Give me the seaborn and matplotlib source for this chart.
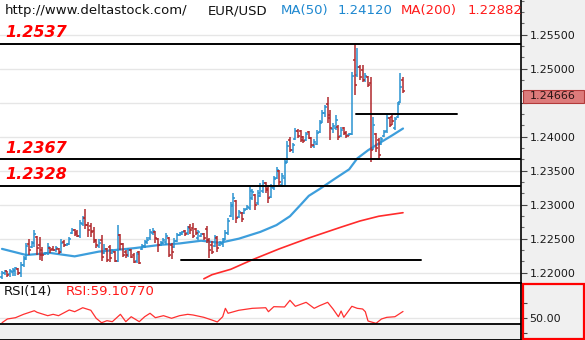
import numpy as np
import pandas as pd
import matplotlib
matplotlib.use("Agg")
import matplotlib.pyplot as plt
import matplotlib.transforms as mtransforms
from matplotlib.patches import Rectangle
from matplotlib.ticker import MultipleLocator, FixedLocator, FuncFormatter, NullFormatter
import seaborn as sns

sns.set_theme(style="white")
plt.rcParams["font.family"] = ["DejaVu Sans"]

# ---------------- EUR/USD OHLC bars ----------------
open_ = [1.2194, 1.2199, 1.2202, 1.2198, 1.2201, 1.2202, 1.2205, 1.2200, 1.2211, 1.2222,
         1.2242, 1.2238, 1.2244, 1.2252, 1.2241, 1.2233, 1.2227, 1.2229, 1.2236, 1.2235,
         1.2233, 1.2235, 1.2230, 1.2245, 1.2241, 1.2242, 1.2258, 1.2263, 1.2260, 1.2254,
         1.2272, 1.2280, 1.2270, 1.2269, 1.2261, 1.2247, 1.2239, 1.2248, 1.2229, 1.2235,
         1.2238, 1.2229, 1.2230, 1.2217, 1.2255, 1.2242, 1.2230, 1.2226, 1.2233, 1.2226,
         1.2217, 1.2230, 1.2235, 1.2239, 1.2245, 1.2251, 1.2259, 1.2260, 1.2250, 1.2241,
         1.2244, 1.2245, 1.2251, 1.2241, 1.2238, 1.2247, 1.2255, 1.2257, 1.2261, 1.2258,
         1.2267, 1.2266, 1.2264, 1.2251, 1.2254, 1.2257, 1.2264, 1.2248, 1.2241, 1.2239,
         1.2251, 1.2241, 1.2242, 1.2250, 1.2258, 1.2283, 1.2298, 1.2305, 1.2282, 1.2288,
         1.2288, 1.2294, 1.2295, 1.2310, 1.2314, 1.2302, 1.2313, 1.2320, 1.2332, 1.2323,
         1.2311, 1.2325, 1.2339, 1.2350, 1.2329, 1.2339, 1.2363, 1.2395, 1.2380, 1.2397,
         1.2409, 1.2408, 1.2400, 1.2395, 1.2407, 1.2398, 1.2387, 1.2389, 1.2407, 1.2422,
         1.2435, 1.2448, 1.2432, 1.2412, 1.2413, 1.2414, 1.2401, 1.2413, 1.2406, 1.2402,
         1.2404, 1.2513, 1.2491, 1.2502, 1.2498, 1.2483, 1.2488, 1.2479, 1.2383, 1.2404,
         1.2395, 1.2389, 1.2401, 1.2408, 1.2427, 1.2429, 1.2413, 1.2429, 1.2451, 1.2483]
high = [1.2202, 1.2204, 1.2203, 1.2205, 1.2207, 1.2208, 1.2207, 1.2216, 1.2224, 1.2244,
        1.2250, 1.2247, 1.2263, 1.2254, 1.2252, 1.2238, 1.2230, 1.2244, 1.2238, 1.2239,
        1.2239, 1.2236, 1.2250, 1.2248, 1.2244, 1.2252, 1.2266, 1.2264, 1.2263, 1.2278,
        1.2283, 1.2294, 1.2274, 1.2273, 1.2267, 1.2249, 1.2250, 1.2255, 1.2242, 1.2236,
        1.2241, 1.2235, 1.2232, 1.2270, 1.2257, 1.2244, 1.2233, 1.2236, 1.2235, 1.2229,
        1.2230, 1.2232, 1.2242, 1.2248, 1.2252, 1.2264, 1.2266, 1.2261, 1.2251, 1.2247,
        1.2251, 1.2258, 1.2252, 1.2244, 1.2251, 1.2258, 1.2260, 1.2261, 1.2263, 1.2268,
        1.2272, 1.2273, 1.2266, 1.2263, 1.2258, 1.2258, 1.2269, 1.2251, 1.2247, 1.2255,
        1.2254, 1.2247, 1.2251, 1.2263, 1.2280, 1.2304, 1.2317, 1.2307, 1.2292, 1.2289,
        1.2295, 1.2300, 1.2326, 1.2323, 1.2316, 1.2322, 1.2332, 1.2336, 1.2333, 1.2328,
        1.2330, 1.2342, 1.2355, 1.2351, 1.2347, 1.2366, 1.2394, 1.2400, 1.2391, 1.2413,
        1.2412, 1.2410, 1.2401, 1.2407, 1.2408, 1.2400, 1.2396, 1.2410, 1.2425, 1.2439,
        1.2447, 1.2458, 1.2439, 1.2420, 1.2432, 1.2417, 1.2414, 1.2414, 1.2408, 1.2405,
        1.2495, 1.2537, 1.2530, 1.2505, 1.2505, 1.2494, 1.2489, 1.2488, 1.2429, 1.2405,
        1.2398, 1.2400, 1.2410, 1.2432, 1.2429, 1.2432, 1.2429, 1.2451, 1.2494, 1.2488]
low = [1.2191, 1.2196, 1.2193, 1.2194, 1.2195, 1.2195, 1.2197, 1.2194, 1.2208, 1.2219,
       1.2226, 1.2236, 1.2238, 1.2226, 1.2219, 1.2217, 1.2226, 1.2226, 1.2229, 1.2232,
       1.2230, 1.2227, 1.2229, 1.2238, 1.2239, 1.2241, 1.2257, 1.2254, 1.2252, 1.2251,
       1.2269, 1.2264, 1.2252, 1.2252, 1.2244, 1.2236, 1.2236, 1.2217, 1.2227, 1.2216,
       1.2216, 1.2227, 1.2216, 1.2216, 1.2233, 1.2223, 1.2222, 1.2223, 1.2222, 1.2214,
       1.2214, 1.2213, 1.2233, 1.2236, 1.2242, 1.2248, 1.2256, 1.2244, 1.2230, 1.2239,
       1.2242, 1.2241, 1.2223, 1.2220, 1.2236, 1.2245, 1.2254, 1.2255, 1.2254, 1.2256,
       1.2257, 1.2251, 1.2255, 1.2248, 1.2252, 1.2248, 1.2244, 1.2222, 1.2227, 1.2238,
       1.2230, 1.2239, 1.2238, 1.2248, 1.2255, 1.2282, 1.2278, 1.2273, 1.2280, 1.2274,
       1.2286, 1.2292, 1.2292, 1.2307, 1.2292, 1.2300, 1.2311, 1.2317, 1.2317, 1.2302,
       1.2310, 1.2322, 1.2338, 1.2329, 1.2326, 1.2328, 1.2361, 1.2378, 1.2376, 1.2395,
       1.2398, 1.2392, 1.2391, 1.2394, 1.2397, 1.2383, 1.2384, 1.2388, 1.2405, 1.2420,
       1.2429, 1.2420, 1.2395, 1.2405, 1.2410, 1.2395, 1.2400, 1.2402, 1.2398, 1.2401,
       1.2402, 1.2461, 1.2488, 1.2483, 1.2480, 1.2480, 1.2473, 1.2363, 1.2380, 1.2378,
       1.2369, 1.2388, 1.2400, 1.2405, 1.2414, 1.2417, 1.2410, 1.2427, 1.2450, 1.2464]
close = [1.2200, 1.2202, 1.2196, 1.2202, 1.2204, 1.2207, 1.2200, 1.2211, 1.2220, 1.2239,
         1.2233, 1.2244, 1.2257, 1.2236, 1.2226, 1.2226, 1.2229, 1.2238, 1.2233, 1.2233,
         1.2236, 1.2230, 1.2244, 1.2240, 1.2242, 1.2250, 1.2263, 1.2257, 1.2254, 1.2273,
         1.2280, 1.2270, 1.2263, 1.2260, 1.2248, 1.2240, 1.2244, 1.2223, 1.2235, 1.2219,
         1.2222, 1.2232, 1.2217, 1.2255, 1.2242, 1.2226, 1.2226, 1.2233, 1.2223, 1.2216,
         1.2227, 1.2214, 1.2239, 1.2245, 1.2248, 1.2260, 1.2262, 1.2251, 1.2241, 1.2244,
         1.2248, 1.2254, 1.2226, 1.2230, 1.2247, 1.2255, 1.2258, 1.2260, 1.2257, 1.2266,
         1.2263, 1.2254, 1.2258, 1.2260, 1.2257, 1.2251, 1.2248, 1.2233, 1.2230, 1.2252,
         1.2236, 1.2244, 1.2248, 1.2258, 1.2276, 1.2300, 1.2310, 1.2280, 1.2289, 1.2279,
         1.2292, 1.2297, 1.2320, 1.2319, 1.2300, 1.2317, 1.2328, 1.2332, 1.2322, 1.2310,
         1.2326, 1.2338, 1.2351, 1.2333, 1.2342, 1.2361, 1.2386, 1.2380, 1.2388, 1.2408,
         1.2401, 1.2395, 1.2394, 1.2404, 1.2398, 1.2388, 1.2392, 1.2405, 1.2420, 1.2435,
         1.2444, 1.2427, 1.2413, 1.2416, 1.2425, 1.2400, 1.2410, 1.2405, 1.2401, 1.2404,
         1.2489, 1.2476, 1.2502, 1.2488, 1.2483, 1.2489, 1.2476, 1.2380, 1.2417, 1.2383,
         1.2373, 1.2397, 1.2407, 1.2427, 1.2417, 1.2423, 1.2426, 1.2448, 1.2473, 1.24666]

# ---------------- moving averages (bar number, value) ----------------
ma50_bar = [0, 9, 18, 27, 36, 49, 59, 66, 74, 81, 88, 96, 102, 107, 111, 114, 118, 124,
            129, 132, 136, 140, 145, 149]
ma50_val = [1.2235, 1.2226, 1.2229, 1.2224, 1.2231, 1.2236, 1.2241, 1.2243, 1.2247,
            1.2244, 1.2250, 1.2260, 1.2270, 1.2283, 1.2300, 1.2313, 1.2323, 1.2339,
            1.2352, 1.2368, 1.2380, 1.2390, 1.2402, 1.2412]
ma200_bar = [75, 78, 85, 93, 103, 114, 126, 133, 140, 149]
ma200_val = [1.2191, 1.2197, 1.2205, 1.2219, 1.2235, 1.2251, 1.2267, 1.2276, 1.2283, 1.22882]

# ---------------- RSI(14) ----------------
rsi_bar = [0, 2, 5, 8, 12, 13, 17, 19, 21, 25, 27, 30, 33, 35, 37, 39, 41, 44, 46, 48,
           51, 53, 55, 57, 60, 63, 66, 69, 71, 75, 78, 80, 82, 83, 84, 88, 93, 98, 99, 101,
           105, 107, 109, 113, 116, 118, 121, 123, 125, 126, 127, 130, 132, 134, 135, 136,
           139, 141, 143, 146, 147, 149]
rsi_val = [44.1, 49.1, 50.8, 55.3, 60.1, 58.0, 53.5, 55.3, 53.5, 61.1, 58.8, 64.1, 60.7,
           50.0, 44.1, 46.8, 45.5, 55.3, 45.5, 52.1, 45.5, 52.1, 56.7, 50.8, 53.5, 50.0,
           53.5, 55.3, 54.4, 51.3, 47.7, 45.1, 52.1, 63.3, 56.7, 60.7, 63.3, 64.1, 58.8,
           65.5, 65.1, 74.0, 66.0, 71.3, 63.3, 66.8, 71.3, 62.4, 52.1, 59.7, 51.3, 66.0,
           63.3, 62.4, 58.8, 46.4, 43.3, 49.1, 51.3, 52.1, 54.4, 59.1077]

# ---------------- drawn levels ----------------
level_values = [1.2537, 1.2367, 1.2328]
level_labels = ["1.2537", "1.2367", "1.2328"]
segment_values = [1.2433, 1.2219]
segment_start = [131.5, 66.5]
segment_end = [169.1, 155.7]

price_ticks = [1.220, 1.225, 1.230, 1.235, 1.240, 1.245, 1.250, 1.255]
rsi_ticks = [30, 50, 70]
last_price = 1.24666
ma50_last, ma200_last = "1.24120", "1.22882"
rsi_last = "59.10770"

BAR_UP = "#2b93d1"
BAR_DN = "#b0282c"
MA50_C = "#3d9edc"
MA200_C = "#ff2b2b"
PANEL = "#f0f0f0"
GRID = "#e6e6e6"

# ---------------- layout in pixels ----------------
W, H = 585, 340
PLOT_R = 521          # right edge of chart area
MAIN_B = 283          # bottom of price panel
FIRST_X, LAST_X = 2, 403
PX_PER_UNIT = 6800.0  # vertical price scale
PRICE_TOP = 1.2601

fig = plt.figure(figsize=(W / 100, H / 100), dpi=100, facecolor=PANEL)
ax = fig.add_axes([0, 1 - MAIN_B / H, PLOT_R / W, MAIN_B / H])
rx = fig.add_axes([0, 0, PLOT_R / W, (H - MAIN_B) / H])

n = len(close)
step = (LAST_X - FIRST_X) / (n - 1)
xl = (-FIRST_X / step, (PLOT_R - FIRST_X) / step)

df = pd.DataFrame({"bar": np.arange(n), "open": open_, "high": high,
                   "low": low, "close": close})
df["up"] = df["close"] >= df["open"]

ax.set_facecolor("white")
ax.set_xlim(*xl)
ax.set_ylim(PRICE_TOP - MAIN_B / PX_PER_UNIT, PRICE_TOP)

# horizontal grid
ax.yaxis.set_major_locator(FixedLocator(price_ticks))
ax.yaxis.set_minor_locator(MultipleLocator(0.005 / 3))
ax.grid(True, axis="y", which="major", color=GRID, lw=1.0)
ax.set_axisbelow(True)

# OHLC bars
tick = 0.75
for is_up, col in [(True, BAR_UP), (False, BAR_DN)]:
    d = df[df["up"] == is_up]
    ax.vlines(d["bar"], d["low"], d["high"], color=col, lw=1.1, zorder=3)
    ax.hlines(d["open"], d["bar"] - tick, d["bar"], color=col, lw=1.1, zorder=3)
    ax.hlines(d["close"], d["bar"], d["bar"] + tick, color=col, lw=1.1, zorder=3)

# moving averages
sns.lineplot(x=ma50_bar, y=ma50_val, ax=ax, color=MA50_C, lw=1.6, zorder=2)
sns.lineplot(x=ma200_bar, y=ma200_val, ax=ax, color=MA200_C, lw=1.2, zorder=2)

# support / resistance levels
for v in level_values:
    ax.axhline(v, color="black", lw=1.4, zorder=4)
for v, a, b in zip(segment_values, segment_start, segment_end):
    ax.plot([a, b], [v, v], color="black", lw=1.4, zorder=4)

blend = mtransforms.blended_transform_factory(ax.transAxes, ax.transData)
for v, t in zip(level_values, level_labels):
    ax.annotate(t, xy=(5 / PLOT_R, v), xycoords=blend, xytext=(0, 2.5),
                textcoords="offset points", ha="left", va="bottom",
                color="#ff0000", fontsize=11.5, fontweight="bold",
                fontstyle="italic", zorder=5)

# header
hy = 1 - 10.5 / MAIN_B
hdr = [("http://www.deltastock.com/", 5, "#111111"), ("EUR/USD", 208, "#111111"),
       ("MA(50)", 281, "#1e88d0"), (ma50_last, 338, "#1e88d0"),
       ("MA(200)", 401, "#ff1a1a"), (ma200_last, 468, "#ff1a1a")]
for t, px, c in hdr:
    ax.text(px / PLOT_R, hy, t, transform=ax.transAxes, ha="left", va="center",
            fontsize=9.5, color=c, zorder=5)

# right price scale (the level hidden under the price tag stays unlabelled)
def price_fmt(v, p):
    return "" if abs(v - 1.245) < 1e-9 else f"{v:.5f}"

ax.yaxis.tick_right()
ax.yaxis.set_major_formatter(FuncFormatter(price_fmt))
ax.yaxis.set_minor_formatter(NullFormatter())
ax.tick_params(axis="y", which="major", length=4, width=0.8, color="#444444",
               pad=2, labelsize=8, labelcolor="#1a1a1a")
ax.tick_params(axis="y", which="minor", length=2.5, width=0.8, color="#666666")
ax.tick_params(axis="x", bottom=False, labelbottom=False)
for s in ["top", "left"]:
    ax.spines[s].set_visible(False)
ax.spines["right"].set_color("black")
ax.spines["right"].set_linewidth(1.2)
ax.spines["bottom"].set_color("black")
ax.spines["bottom"].set_linewidth(1.4)

# last price tag
tag_h = 13 / PX_PER_UNIT
tag_c = last_price - 5 / PX_PER_UNIT
ax.add_patch(Rectangle((1 + 1.5 / PLOT_R, tag_c - tag_h / 2), 61 / PLOT_R, tag_h,
                       transform=blend, clip_on=False, fc="#dd7b7b", ec="#b23a3a",
                       lw=0.8, zorder=6))
ax.text(1 + 32 / PLOT_R, tag_c, f"{last_price:.5f}", transform=blend,
        ha="center", va="center", fontsize=8, color="#2a1414", zorder=7, clip_on=False)

# ---------------- RSI panel ----------------
RSI_SCALE = 0.75   # px per RSI point
RSI_MID_Y = 318.3  # pixel row of the 50 level
rsi_top = 50 + (RSI_MID_Y - MAIN_B) / RSI_SCALE
rsi_bot = 50 - (H - RSI_MID_Y) / RSI_SCALE
rsi_floor = 50 - (324 - RSI_MID_Y) / RSI_SCALE

rx.set_facecolor("white")
rx.set_xlim(*xl)
rx.set_ylim(rsi_bot, rsi_top)
rx.axhline(50, color=GRID, lw=1.0, zorder=1)
rx.axhspan(rsi_bot, rsi_floor, color=PANEL, zorder=1)
rx.axhline(rsi_floor, color="black", lw=1.3, zorder=4)
sns.lineplot(x=rsi_bar, y=rsi_val, ax=rx, color="#ff3030", lw=0.9, zorder=3)

rx.yaxis.tick_right()
rx.yaxis.set_major_locator(FixedLocator(rsi_ticks))
rx.yaxis.set_major_formatter(FuncFormatter(lambda v, p: "50.00" if v == 50 else ""))
rx.tick_params(axis="y", length=4, width=0.8, color="#444444", pad=2,
               labelsize=8, labelcolor="#1a1a1a")
rx.tick_params(axis="x", bottom=False, labelbottom=False)
rx.set_xlabel("")
rx.set_ylabel("")
ax.set_xlabel("")
ax.set_ylabel("")
rx.spines["left"].set_visible(False)
for s in ["top", "right", "bottom"]:
    rx.spines[s].set_color("black")
    rx.spines[s].set_linewidth(1.3)

ry = 1 - 8.5 / (H - MAIN_B)
rx.text(4 / PLOT_R, ry, "RSI(14)", transform=rx.transAxes, ha="left", va="center",
        fontsize=9.5, color="#111111")
rx.text(66 / PLOT_R, ry, "RSI:" + rsi_last, transform=rx.transAxes, ha="left",
        va="center", fontsize=9.5, color="#ff1a1a")

# red frame around the RSI scale
fig.add_artist(Rectangle(((PLOT_R + 1.5) / W, 1 / H), 61.5 / W, (H - MAIN_B - 1.5) / H,
                         transform=fig.transFigure, fill=False, ec="#ff0000", lw=1.6))

fig.savefig("out.png", dpi=100, facecolor=PANEL)
